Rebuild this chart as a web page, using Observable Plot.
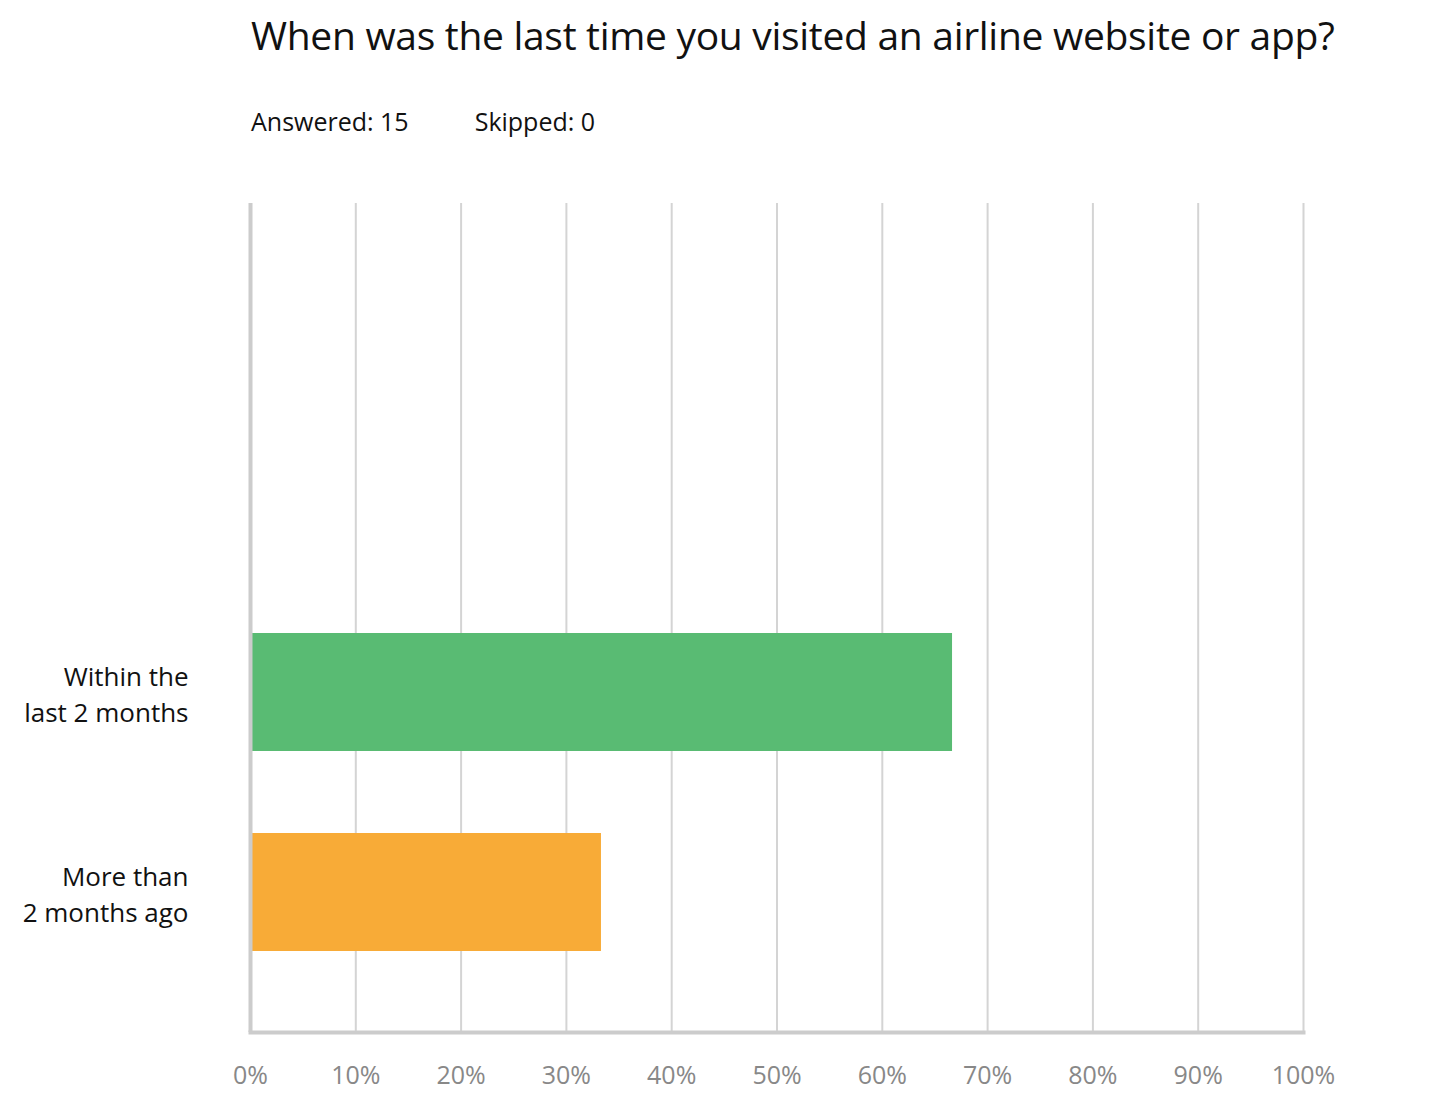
<!DOCTYPE html>
<html><head><meta charset="utf-8">
<script src="https://cdn.jsdelivr.net/npm/d3@7"></script>
<script src="https://cdn.jsdelivr.net/npm/@observablehq/plot@0.6"></script>
<style>
body{margin:0;background:#fff;font-family:"Open Sans",sans-serif;}
#head{position:relative;height:175px;}
#title{position:absolute;left:251px;top:8px;font-size:39px;color:#111;letter-spacing:-0.3px;}
#sub{position:absolute;left:251px;top:104px;font-size:25px;color:#111;}
#sub span{margin-right:66px;}
</style></head><body>
<div id="head"><div id="title">When was the last time you visited an airline website or app?</div>
<div id="sub"><span>Answered: 15</span>Skipped: 0</div></div>
<div id="chart"></div>
<script>
const categories = ["Within the\nlast 2 months", "More than\n2 months ago"];
const values = [66.67, 33.33];
const colors = ["#59bb73", "#f8ab37"];
const ticks = [0,10,20,30,40,50,60,70,80,90,100];
const data = categories.map((c,i)=>({cat:c, v:values[i], color:colors[i]}));
const plot = Plot.plot({
  width:1444, height:945,
  marginLeft:250, marginRight:141, marginTop:28, marginBottom:88,
  style:{fontFamily:"Open Sans, sans-serif", background:"#fff"},
  x:{domain:[0,100]},
  y:{domain:categories, range:[417,817], padding:0},
  marks:[
    Plot.ruleX(ticks.slice(1), {stroke:"#d4d4d4", strokeWidth:2, strokeOpacity:1}),
    Plot.barX(data, {x:"v", y:"cat", fill:"color", insetTop:41, insetBottom:41}),
    Plot.ruleX([0], {stroke:"#cccccc", strokeWidth:4, strokeOpacity:1}),
    Plot.frame({anchor:"bottom", stroke:"#cccccc", strokeWidth:4}),
    Plot.axisX({ticks, tickFormat:d=>d+"%", tickSize:0, tickPadding:34, fontSize:25, color:"#888", label:null}),
    Plot.axisY({tickSize:0, tickPadding:62, fontSize:26, color:"#111", label:null, lineHeight:1.4})
  ]
});
document.getElementById("chart").appendChild(plot);
</script></body></html>
